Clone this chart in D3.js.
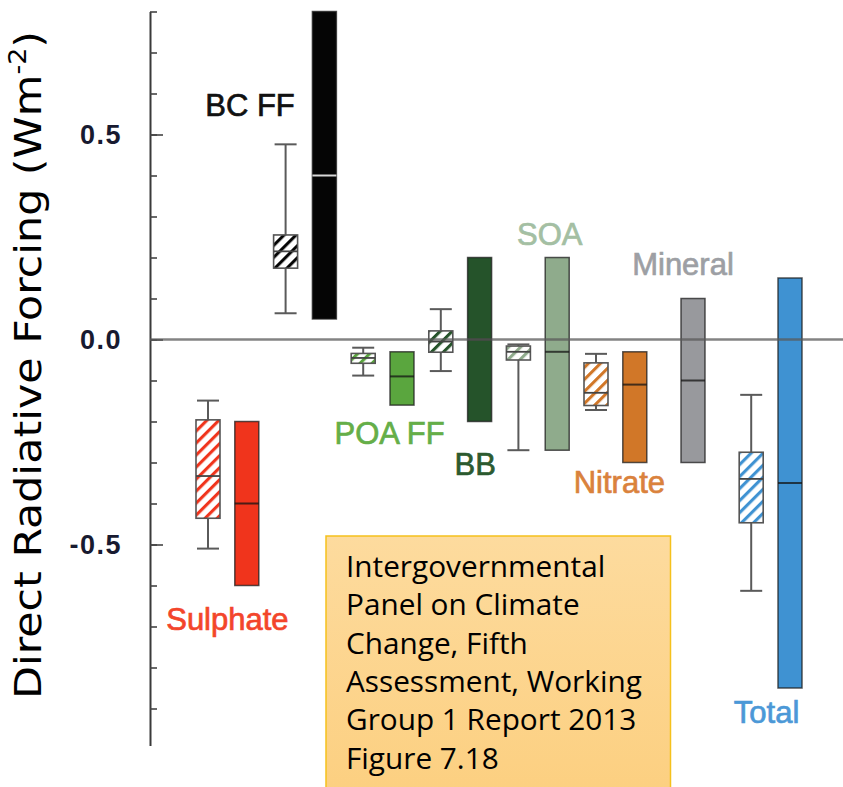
<!DOCTYPE html>
<html>
<head>
<meta charset="utf-8">
<script src="https://cdn.jsdelivr.net/npm/d3@7"></script>
<style>
  html, body { margin: 0; padding: 0; background: #fff; }
  svg { display: block; }
</style>
</head>
<body>
<svg id="chart" width="843" height="787"></svg>
<script>
// Aerosol species, in plotting order
const categories = ["Sulphate", "BC FF", "POA FF", "BB", "SOA", "Nitrate", "Mineral", "Total"];

// AeroCom model spread (hatched box and whiskers), W m-2; Mineral has no model box
const modelMin    = [-0.51, 0.064, -0.088, -0.077, -0.27,  -0.172, null, -0.613];
const modelQ1     = [-0.436, 0.174, -0.058, -0.031, -0.05, -0.161, null, -0.447];
const modelMedian = [-0.333, 0.215, -0.045, -0.005, -0.03, -0.13,  null, -0.34];
const modelQ3     = [-0.196, 0.255, -0.034, 0.021, -0.016, -0.057, null, -0.275];
const modelMax    = [-0.149, 0.476, -0.02,  0.074, -0.012, -0.035, null, -0.135];

// AR5 best estimate and uncertainty range (solid bars), W m-2
const bestLow   = [-0.6, 0.05, -0.16, -0.2, -0.27, -0.3,  -0.3, -0.85];
const bestValue = [-0.4, 0.4,  -0.09, 0.0,  -0.03, -0.11, -0.1, -0.35];
const bestHigh  = [-0.2, 0.8,  -0.03, 0.2,  0.2,   -0.03, 0.1,  0.15];

// Axis tick values
const minorTicks = [0.8, 0.7, 0.6, 0.5, 0.4, 0.3, 0.2, 0.1, 0.0, -0.1, -0.2, -0.3, -0.4, -0.5, -0.6, -0.7, -0.8, -0.9];
const majorTicks = [0.5, 0.0, -0.5];

// Source note lines
const noteLines = [
  "Intergovernmental",
  "Panel on Climate",
  "Change, Fifth",
  "Assessment, Working",
  "Group 1 Report 2013",
  "Figure 7.18"
];

// Colours per species
const barColors   = ["#f0341c", "#050505", "#5aa63e", "#25532a", "#8fab8c", "#d17728", "#98999d", "#3f92d2"];
const labelColors = ["#f3452b", "#111111", "#65ae48", "#2c5a2f", "#a4bfa3", "#da823c", "#9d9fa4", "#4b98d7"];

const svg = d3.select("#chart");
const W = 843;

const y = d3.scaleLinear().domain([-0.99, 0.8]).range([745.4, 11.5]);
const x = d3.scaleBand().domain(categories).range([188.6, 809.4]);
const sub = d3.scalePoint().domain(["model", "best"]).range([-19.4, 19.4]);
const barW = 24;
const center = i => x(categories[i]) + x.bandwidth() / 2;

// Hatch patterns, one per species colour
const defs = svg.append("defs");
barColors.forEach((c, i) => {
  const p = defs.append("pattern")
    .attr("id", "hatch" + i)
    .attr("patternUnits", "userSpaceOnUse")
    .attr("width", 8.5).attr("height", 8.5)
    .attr("patternTransform", "rotate(45)");
  p.append("rect").attr("width", 8.5).attr("height", 8.5).attr("fill", "#fff");
  p.append("line").attr("x1", 1.5).attr("y1", 0).attr("x2", 1.5).attr("y2", 8.5)
    .attr("stroke", c).attr("stroke-width", 3.2);
});
const grad = defs.append("linearGradient").attr("id", "noteFill")
  .attr("x1", 0).attr("y1", 0).attr("x2", 0).attr("y2", 1);
grad.append("stop").attr("offset", "0%").attr("stop-color", "#fddb9e");
grad.append("stop").attr("offset", "100%").attr("stop-color", "#fccf7f");

// Y axis: minor and major ticks pointing into the plot
const axisG = svg.append("g").attr("transform", "translate(150,0)");
axisG.call(d3.axisRight(y).tickValues(minorTicks).tickSize(7).tickSizeOuter(0).tickFormat(""));
axisG.append("g").call(d3.axisRight(y).tickValues(majorTicks).tickSize(13).tickSizeOuter(0).tickFormat(""))
  .select(".domain").remove();
axisG.selectAll(".domain").attr("stroke", "#3a3a3a").attr("stroke-width", 2);
axisG.selectAll(".tick line").attr("stroke", "#444").attr("stroke-width", 1.6);

// Tick labels
const labG = svg.append("g").attr("transform", "translate(150,0)")
  .call(d3.axisLeft(y).tickValues(majorTicks).tickSize(0).tickPadding(28).tickFormat(d => d.toFixed(1)));
labG.select(".domain").remove();
labG.selectAll("text")
  .attr("font-family", "'Liberation Sans', Arial, sans-serif")
  .attr("font-weight", "bold")
  .attr("font-size", 27)
  .attr("letter-spacing", 1.5)
  .attr("fill", "#181a30");

// Y axis title
const title = svg.append("text")
  .attr("transform", "translate(41,365) rotate(-90)")
  .attr("text-anchor", "middle")
  .attr("font-family", "'DejaVu Sans Condensed', 'DejaVu Sans', sans-serif")
  .attr("font-stretch", "condensed")
  .attr("font-size", 38)
  .attr("fill", "#000");
title.append("tspan").text("Direct Radiative Forcing (Wm");
title.append("tspan").attr("font-size", 24).attr("dy", -15).text("-2");
title.append("tspan").attr("dy", 15).text(")");
title.attr("textLength", 668).attr("lengthAdjust", "spacingAndGlyphs");

// Model spread: whiskers and hatched boxes
const marks = svg.append("g");
categories.forEach((c, i) => {
  if (modelQ1[i] === null) return;
  const cx = center(i) + sub("model");
  const g = marks.append("g");
  const wc = "#5a5a5a";
  g.append("line").attr("x1", cx).attr("x2", cx).attr("y1", y(modelMax[i])).attr("y2", y(modelQ3[i]))
    .attr("stroke", wc).attr("stroke-width", 2);
  g.append("line").attr("x1", cx).attr("x2", cx).attr("y1", y(modelQ1[i])).attr("y2", y(modelMin[i]))
    .attr("stroke", wc).attr("stroke-width", 2);
  [modelMax[i], modelMin[i]].forEach(v => {
    g.append("line").attr("x1", cx - barW / 2 + 1).attr("x2", cx + barW / 2 - 1)
      .attr("y1", y(v)).attr("y2", y(v)).attr("stroke", wc).attr("stroke-width", 2);
  });
  g.append("rect")
    .attr("x", cx - barW / 2).attr("width", barW)
    .attr("y", y(modelQ3[i])).attr("height", y(modelQ1[i]) - y(modelQ3[i]))
    .attr("fill", "url(#hatch" + i + ")")
    .attr("stroke", "#555").attr("stroke-width", 1.6);
  g.append("line").attr("x1", cx - barW / 2).attr("x2", cx + barW / 2)
    .attr("y1", y(modelMedian[i])).attr("y2", y(modelMedian[i]))
    .attr("stroke", "#444").attr("stroke-width", 1.8);
});

// Best estimates: solid range bars with central value
categories.forEach((c, i) => {
  const cx = center(i) + (modelQ1[i] === null ? 0 : sub("best"));
  const g = marks.append("g");
  g.append("rect")
    .attr("x", cx - barW / 2).attr("width", barW)
    .attr("y", y(bestHigh[i])).attr("height", y(bestLow[i]) - y(bestHigh[i]))
    .attr("fill", barColors[i])
    .attr("stroke", "rgba(30,30,30,0.75)").attr("stroke-width", 1.5);
  const dark = d3.lab(barColors[i]).l < 15;
  g.append("line").attr("x1", cx - barW / 2).attr("x2", cx + barW / 2)
    .attr("y1", y(bestValue[i])).attr("y2", y(bestValue[i]))
    .attr("stroke", dark ? "#d8d8d8" : "rgba(20,20,20,0.75)").attr("stroke-width", 2);
});

// Zero line
svg.append("line")
  .attr("x1", 150).attr("x2", W)
  .attr("y1", y(0)).attr("y2", y(0))
  .attr("stroke", "rgba(90,90,90,0.75)").attr("stroke-width", 2.5);

// Species labels: offset from group centre (px) and baseline (px)
const labelLayout = [
  { dx: 0,   by: 630 },
  { dx: -55, by: 116 },
  { dx: 7,   by: 444 },
  { dx: 15,  by: 475 },
  { dx: 12,  by: 245 },
  { dx: 4,   by: 493 },
  { dx: -10, by: 275 },
  { dx: -4,  by: 723 }
];
svg.append("g").selectAll("text")
  .data(categories)
  .join("text")
  .attr("x", (d, i) => center(i) + labelLayout[i].dx)
  .attr("y", (d, i) => labelLayout[i].by)
  .attr("text-anchor", "middle")
  .attr("font-family", "'Liberation Sans', Arial, Helvetica, sans-serif")
  .attr("font-size", 31)
  .attr("fill", (d, i) => labelColors[i])
  .attr("stroke", (d, i) => labelColors[i])
  .attr("stroke-width", 0.7)
  .text(d => d);

// Source note box
const note = svg.append("g");
note.append("rect")
  .attr("x", 326).attr("y", 536).attr("width", 344.5).attr("height", 270)
  .attr("fill", "url(#noteFill)")
  .attr("stroke", "#f5c11c").attr("stroke-width", 1.5);
const noteText = note.append("g")
  .attr("font-family", "'Open Sans', 'Noto Sans', sans-serif")
  .attr("fill", "#000");
noteText.selectAll("text")
  .data(noteLines)
  .join("text")
  .attr("x", 346)
  .attr("y", (d, i) => 577 + i * 38.3)
  .attr("font-size", 28)
  .text(d => d);
// fit the widest line to the box
let widest = 0;
noteText.selectAll("text").each(function () { widest = Math.max(widest, this.getComputedTextLength()); });
if (widest > 0) noteText.selectAll("text").attr("font-size", 28 * 296 / widest);
</script>
</body>
</html>
